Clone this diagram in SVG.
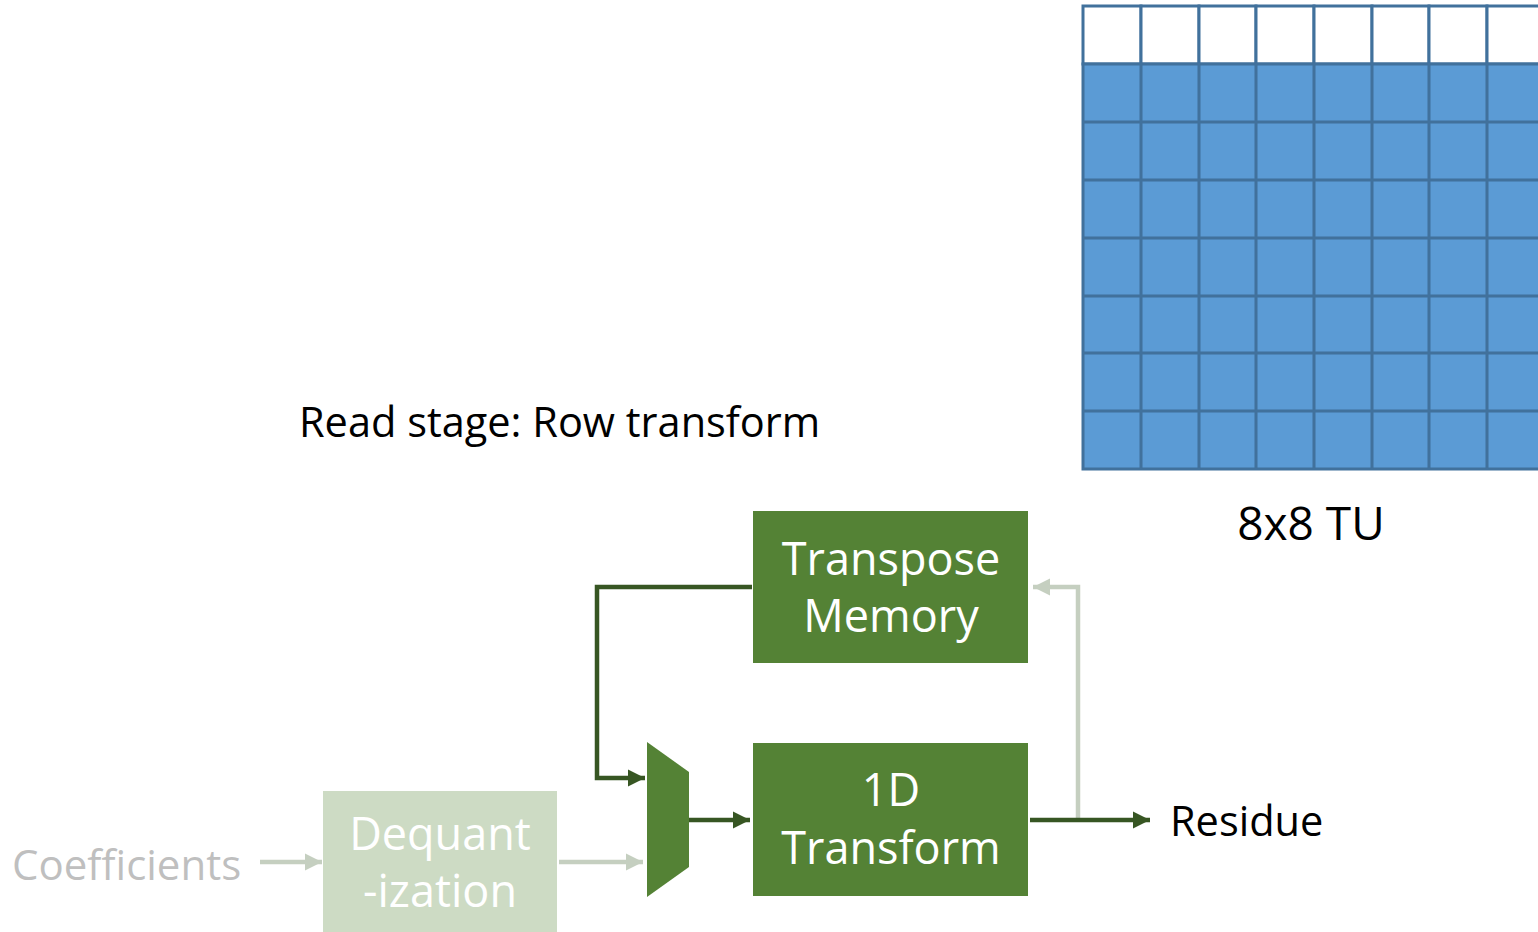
<svg xmlns="http://www.w3.org/2000/svg" width="1538" height="932" viewBox="0 0 1538 932">
<style>
.cell{fill:#5B9BD5;stroke:#41719C;stroke-width:3}
.wcell{fill:#FFFFFF;stroke:#41719C;stroke-width:3}
.t{font-family:"Open Sans","Liberation Sans",sans-serif;}
.box{fill:#548235}
.wt{fill:#FFFFFF;font-size:45px;text-anchor:middle}
.dk{fill:none;stroke:#375623;stroke-width:4.5}
.lt{fill:none;stroke:#C5CFC0;stroke-width:4.5}
</style>
<defs>
<marker id="ad" viewBox="0 0 10 10" refX="10" refY="5" markerWidth="3.8" markerHeight="3.8" markerUnits="strokeWidth" orient="auto"><path d="M0,0L10,5L0,10Z" fill="#375623"/></marker>
<marker id="al" viewBox="0 0 10 10" refX="10" refY="5" markerWidth="3.8" markerHeight="3.8" markerUnits="strokeWidth" orient="auto"><path d="M0,0L10,5L0,10Z" fill="#C5CFC0"/></marker>
</defs>
<rect width="1538" height="932" fill="#FFFFFF"/>
<g id="grid">
<rect class="wcell" x="1083" y="6" width="58" height="58"/><rect class="wcell" x="1141" y="6" width="58" height="58"/><rect class="wcell" x="1199" y="6" width="57" height="58"/><rect class="wcell" x="1256" y="6" width="58" height="58"/><rect class="wcell" x="1314" y="6" width="58" height="58"/><rect class="wcell" x="1372" y="6" width="57" height="58"/><rect class="wcell" x="1429" y="6" width="58" height="58"/><rect class="wcell" x="1487" y="6" width="58" height="58"/>
<g id="rows">
<rect class="cell" x="1083" y="64" width="462" height="405"/>
<path d="M1083,122H1545M1083,180H1545M1083,238H1545M1083,296H1545M1083,353H1545M1083,411H1545M1141,64V469M1199,64V469M1256,64V469M1314,64V469M1372,64V469M1429,64V469M1487,64V469" stroke="#41719C" stroke-width="3" fill="none"/>
</g>
</g>
<text class="t" x="299" y="437" font-size="41.5" fill="#000000">Read stage: Row transform</text>
<text class="t" x="1311" y="540" font-size="46" fill="#000000" text-anchor="middle">8x8 TU</text>
<g id="connectors">
<path class="dk" d="M752,587H597V778H645" marker-end="url(#ad)"/>
<path class="dk" d="M689,820H750" marker-end="url(#ad)"/>
<path class="lt" d="M1078,818V587H1033" marker-end="url(#al)"/>
<path class="dk" d="M1030,820H1150" marker-end="url(#ad)"/>
<path class="lt" d="M260,862H322" marker-end="url(#al)"/>
<path class="lt" d="M559,862H643" marker-end="url(#al)"/>
</g>
<g id="transpose">
<rect class="box" x="753" y="511" width="275" height="152"/>
<text class="t wt" x="891" y="575">Transpose</text>
<text class="t wt" x="891" y="632">Memory</text>
</g>
<g id="transform">
<rect class="box" x="753" y="743" width="275" height="153"/>
<text class="t wt" x="891" y="806">1D</text>
<text class="t wt" x="891" y="864">Transform</text>
</g>
<g id="mux">
<path d="M647,742L689,772V867L647,897Z" fill="#548235"/>
</g>
<g id="dequant">
<rect x="323" y="791" width="234" height="145" fill="#CDDBC4"/>
<text class="t wt" x="440" y="850">Dequant</text>
<text class="t wt" x="440" y="907">-ization</text>
</g>
<text class="t" x="12" y="880" font-size="42" fill="#BFBFBF">Coefficients</text>
<text class="t" x="1170" y="836" font-size="41.5" fill="#000000">Residue</text>
</svg>
